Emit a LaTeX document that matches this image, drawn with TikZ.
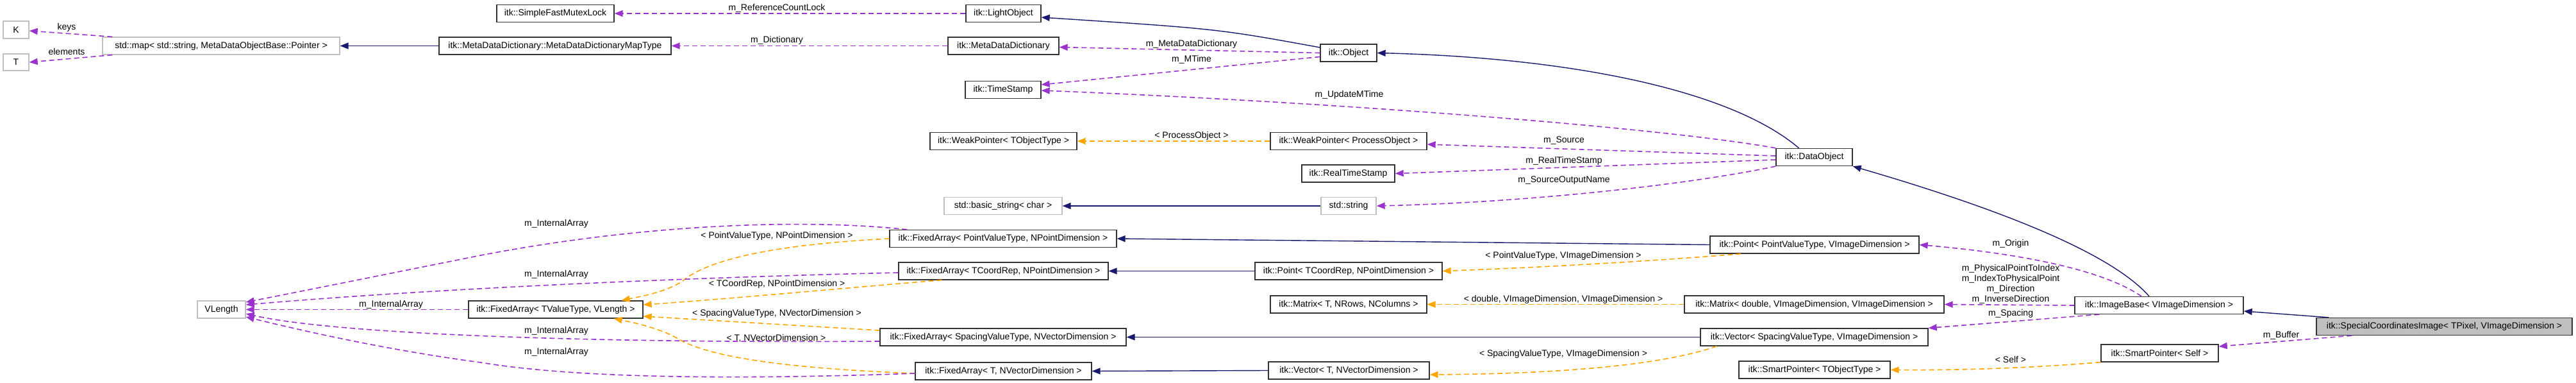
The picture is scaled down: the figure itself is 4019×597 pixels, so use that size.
\documentclass[tikz,border=0pt]{standalone}
\usepackage{fontspec}
\setmainfont{Liberation Sans}
\usetikzlibrary{arrows.meta}
\definecolor{dpurple}{HTML}{9A32CD}
\definecolor{dorange}{HTML}{FFA500}
\definecolor{dblue}{HTML}{191970}
\definecolor{dgrey}{HTML}{BFBFBF}
\definecolor{dborder}{HTML}{333333}
\begin{document}
\begin{tikzpicture}[x=1pt,y=-1pt, font=\fontsize{14}{16}\selectfont,
 cls/.style={draw=dborder, line width=1.3pt, fill=white, inner sep=0pt, minimum height=27pt, anchor=center},
 ext/.style={cls, draw=dgrey},
 cur/.style={cls, fill=dgrey},
 lbl/.style={inner sep=0pt, align=center},
 inh/.style={draw=dblue, line width=1.4pt, -{Triangle[length=13pt,width=10pt]}},
 use/.style={draw=dpurple, line width=1.6pt, dash pattern=on 8pt off 5pt, -{Triangle[length=13pt,width=10pt]}},
 tpl/.style={draw=dorange, line width=1.6pt, dash pattern=on 8pt off 5pt, -{Triangle[length=13pt,width=10pt]}},
]
\useasboundingbox (0,0) rectangle (4019,597);
\fill[white] (0,0) rectangle (4019,597);

% nodes
\node[ext, minimum width=40pt] (K) at (25,46.5) {K};
\node[ext, minimum width=40pt, minimum height=26pt] (T) at (25,97) {T};
\node[ext, minimum width=370pt] (map) at (345,71.5) {std::map< std::string, MetaDataObjectBase::Pointer >};
\node[cls, minimum width=362pt] (maptype) at (866,71.5) {itk::MetaDataDictionary::MetaDataDictionaryMapType};
\node[cls, minimum width=183pt] (mutex) at (866.5,21) {itk::SimpleFastMutexLock};
\node[cls, minimum width=117pt] (light) at (1565.5,21) {itk::LightObject};
\node[cls, minimum width=173pt] (mdd) at (1565.5,71.5) {itk::MetaDataDictionary};
\node[cls, minimum width=118pt] (ts) at (1565,140) {itk::TimeStamp};
\node[cls, minimum width=229pt] (wpt) at (1565.5,220) {itk::WeakPointer< TObjectType >};
\node[cls, minimum width=88pt] (obj) at (2104,82.5) {itk::Object};
\node[cls, minimum width=244pt] (wpp) at (2104,220) {itk::WeakPointer< ProcessObject >};
\node[cls, minimum width=145pt] (rts) at (2103.5,270.5) {itk::RealTimeStamp};
\node[ext, minimum width=86pt] (str) at (2104,321) {std::string};
\node[cls, minimum width=119pt] (dobj) at (2830.5,245) {itk::DataObject};
\node[ext, minimum width=184pt] (bstr) at (1565,321) {std::basic\_string< char >};
\node[cls, minimum width=354pt] (fapv) at (1565,372) {itk::FixedArray< PointValueType, NPointDimension >};
\node[cls, minimum width=327pt] (fatc) at (1565.5,422.5) {itk::FixedArray< TCoordRep, NPointDimension >};
\node[cls, minimum width=272pt] (fatv) at (867,482.5) {itk::FixedArray< TValueType, VLength >};
\node[ext, minimum width=75pt] (vlen) at (345.5,482.5) {VLength};
\node[cls, minimum width=384pt] (fasv) at (1565,525.5) {itk::FixedArray< SpacingValueType, NVectorDimension >};
\node[cls, minimum width=275pt] (fatn) at (1565.5,578.5) {itk::FixedArray< T, NVectorDimension >};
\node[cls, minimum width=292pt] (pttc) at (2104,422.5) {itk::Point< TCoordRep, NPointDimension >};
\node[cls, minimum width=244pt] (mxt) at (2104,474.5) {itk::Matrix< T, NRows, NColumns >};
\node[cls, minimum width=251pt] (vectn) at (2104.5,577.5) {itk::Vector< T, NVectorDimension >};
\node[cls, minimum width=326pt] (ptpv) at (2831,381.5) {itk::Point< PointValueType, VImageDimension >};
\node[cls, minimum width=405pt] (mxd) at (2830.5,474.5) {itk::Matrix< double, VImageDimension, VImageDimension >};
\node[cls, minimum width=355pt] (vecsv) at (2830.5,525.5) {itk::Vector< SpacingValueType, VImageDimension >};
\node[cls, minimum width=236pt] (spt) at (2831,576.5) {itk::SmartPointer< TObjectType >};
\node[cls, minimum width=263pt] (ib) at (3368.5,476) {itk::ImageBase< VImageDimension >};
\node[cur, minimum width=399pt] (sci) at (3813.5,509) {itk::SpecialCoordinatesImage< TPixel, VImageDimension >};
\node[cls, minimum width=183pt] (sps) at (3369.5,550.5) {itk::SmartPointer< Self >};

% edges
\draw[use] ([shift={(16,0)}]map.north west) -- ([shift={(0,1.5)}]K.east);
\draw[use] ([shift={(16,0)}]map.south west) -- (T.east);
\draw[inh] (maptype.west) -- (map.east);
\draw[use] (light.west) -- (mutex.east);
\draw[use] (mdd.west) -- (maptype.east);
\draw[inh] ([shift={(0,-8.5)}]obj.west) .. controls (1900,45) .. ([shift={(0,6)}]light.east);
\draw[use] (obj.west) -- ([shift={(0,2)}]mdd.east);
\draw[use] ([shift={(0,6)}]obj.west) -- ([shift={(0,-8)}]ts.east);
\draw[use] (dobj.north west) .. controls (2600,200) and (2100,160) .. ([shift={(0,1)}]ts.east);
\draw[inh] ([shift={(-24,0)}]dobj.north) .. controls (2700,140) and (2450,90) .. (obj.east);
\draw[use] ([shift={(0,-2)}]dobj.west) -- ([shift={(0,5)}]wpp.east);
\draw[use] ([shift={(0,4)}]dobj.west) -- (rts.east);
\draw[use] (dobj.south west) .. controls (2650,285) and (2400,315) .. (str.east);
\draw[tpl] (wpp.west) -- (wpt.east);
\draw[inh] (str.west) -- (bstr.east);
\draw[inh] ([shift={(-15.5,0)}]ib.north) .. controls (3290,390) and (3100,320) .. (dobj.south east);
\draw[inh] ([shift={(20,0)}]sci.north west) -- ([shift={(0,9)}]ib.east);
\draw[use] ([shift={(56,0)}]sci.south west) -- ([shift={(0,-10.5)}]sps.east);
\draw[tpl] (sps.south west) .. controls (3150,575) and (3050,577) .. (spt.east);
\draw[use] ([shift={(-27.5,0)}]ib.north) .. controls (3280,420) and (3150,395) .. (ptpv.east);
\draw[use] (ib.west) -- (mxd.east);
\draw[use] ([shift={(39,0)}]ib.south west) -- (vecsv.north east);
\draw[inh] (ptpv.west) -- (fapv.east);
\draw[tpl] ([shift={(49,0)}]ptpv.south west) .. controls (2600,405) and (2450,415) .. (pttc.east);
\draw[tpl] (mxd.west) -- (mxt.east);
\draw[inh] (vecsv.west) -- (fasv.east);
\draw[tpl] ([shift={(26,0)}]vecsv.south west) .. controls (2620,560) and (2500,582) .. ([shift={(0,6.5)}]vectn.east);
\draw[inh] (pttc.west) -- (fatc.east);
\draw[inh] (vectn.west) -- (fatn.east);
\draw[tpl] (fapv.west) .. controls (1230,380) and (1110,400) .. (1065,438) .. controls (1040,455) and (1000,462) .. ([shift={(-34,0)}]fatv.north east);
\draw[tpl] ([shift={(-96,0)}]fatc.south) .. controls (1350,446) and (1150,465) .. ([shift={(0,-7.5)}]fatv.east);
\draw[tpl] ([shift={(0,-10.5)}]fasv.west) -- ([shift={(0,10.5)}]fatv.east);
\draw[tpl] ([shift={(0,3.5)}]fatn.west) .. controls (1250,575) and (1110,560) .. (1056,527) .. controls (1030,512) and (990,503) .. ([shift={(-46,0)}]fatv.south east);
\draw[use] (fatv.west) -- (vlen.east);
\draw[use] ([shift={(28,0)}]fapv.north west) .. controls (1250,340) and (1000,350) .. (750,398) .. controls (600,428) and (450,458) .. ([shift={(0,-11.5)}]vlen.east);
\draw[use] ([shift={(0,2.5)}]fatc.west) .. controls (1100,432) and (700,448) .. ([shift={(0,-7.5)}]vlen.east);
\draw[use] ([shift={(0,6.5)}]fasv.west) .. controls (900,535) and (520,520) .. ([shift={(0,6.5)}]vlen.east);
\draw[use] ([shift={(0,3.5)}]fatn.west) .. controls (1150,592) and (900,590) .. (750,565) .. controls (600,545) and (470,515) .. ([shift={(0,11.5)}]vlen.east);

% labels
\node[lbl] (l1) at (104,43) {keys};
\node[lbl] (l2) at (104,80) {elements};
\node[lbl] (l3) at (1212,13) {m\_ReferenceCountLock};
\node[lbl] (l4) at (1212,63) {m\_Dictionary};
\node[lbl] (l5) at (1859,69) {m\_MetaDataDictionary};
\node[lbl] (l6) at (1859,93) {m\_MTime};
\node[lbl] (l7) at (2105,148) {m\_UpdateMTime};
\node[lbl] (l8) at (1859,212) {< ProcessObject >};
\node[lbl] (l9) at (2440,219) {m\_Source};
\node[lbl] (l10) at (2440,251) {m\_RealTimeStamp};
\node[lbl] (l11) at (2440,281) {m\_SourceOutputName};
\node[lbl] (l12) at (868,349) {m\_InternalArray};
\node[lbl] (l13) at (868,428) {m\_InternalArray};
\node[lbl] (l14) at (610,475) {m\_InternalArray};
\node[lbl] (l15) at (868,516) {m\_InternalArray};
\node[lbl] (l16) at (868,549) {m\_InternalArray};
\node[lbl] (l17) at (1212,368) {< PointValueType, NPointDimension >};
\node[lbl] (l18) at (1212,443) {< TCoordRep, NPointDimension >};
\node[lbl] (l19) at (1212,489) {< SpacingValueType, NVectorDimension >};
\node[lbl] (l20) at (1211,527) {< T, NVectorDimension >};
\node[lbl] (l21) at (2439,399) {< PointValueType, VImageDimension >};
\node[lbl] (l22) at (2439,467) {< double, VImageDimension, VImageDimension >};
\node[lbl] (l23) at (2439,552) {< SpacingValueType, VImageDimension >};
\node[lbl] (l24) at (3137,380) {m\_Origin};
\node[lbl] (l25) at (3137,443) {m\_PhysicalPointToIndex\\m\_IndexToPhysicalPoint\\m\_Direction\\m\_InverseDirection};
\node[lbl] (l26) at (3137,489) {m\_Spacing};
\node[lbl] (l27) at (3559,523) {m\_Buffer};
\node[lbl] (l28) at (3137,560) {< Self >};
\end{tikzpicture}
\end{document}
